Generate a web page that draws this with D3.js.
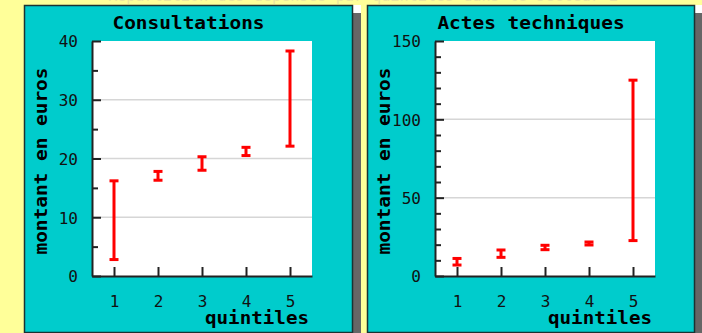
<!DOCTYPE html>
<html><head><meta charset="utf-8">
<script src="https://cdn.jsdelivr.net/npm/d3@7"></script>
<style>
html,body{margin:0;padding:0;background:#ffff99;overflow:hidden}
svg{display:block}
</style></head>
<body>
<script>
// ---- data ----
const quintiles = [1, 2, 3, 4, 5];
const consultLow  = [2.8, 16.3, 18.0, 20.5, 22.1];
const consultHigh = [16.2, 17.8, 20.3, 21.9, 38.3];
const actesLow  = [7.0, 11.9, 16.8, 19.8, 22.6];
const actesHigh = [11.2, 16.6, 19.6, 21.7, 125.0];
const titles = ["Consultations", "Actes techniques"];
const yMaxes = [40, 150];
const yMajorTicks = [[0, 10, 20, 30, 40], [0, 50, 100, 150]];
const yMinorTicks = [[5, 15, 25, 35], [10, 20, 30, 40, 60, 70, 80, 90, 110, 120, 130, 140]];
const yLabel = "montant en euros";
const xLabel = "quintiles";
const topText = "Répartition des dépenses par quintiles dans le secteur 2";

const W = 702, H = 333;
const svg = d3.select("body").append("svg").attr("width", W).attr("height", H);
svg.append("rect").attr("width", W).attr("height", H).attr("fill", "#ffff99");

const mono = "'DejaVu Sans Mono', 'Liberation Mono', monospace";

// faint cut-off heading at very top (only its lower edge shows)
svg.append("text").attr("x", 108).attr("y", 1)
  .attr("font-family", mono).attr("font-size", 16)
  .attr("fill", "#ece6a0").attr("textLength", 510).attr("lengthAdjust", "spacingAndGlyphs")
  .text(topText);

const panels = [
  {x0: 24, x1: 353, px0: 92, px1: 312, low: consultLow, high: consultHigh},
  {x0: 367, x1: 695, px0: 435, px1: 655, low: actesLow, high: actesHigh}
];

panels.forEach((p, i) => {
  const g = svg.append("g");
  // shadow
  g.append("rect").attr("x", p.x1).attr("y", 5).attr("width", 8).attr("height", 8).attr("fill", "#ffffff");
  g.append("rect").attr("x", p.x1).attr("y", 13).attr("width", 8).attr("height", H - 13).attr("fill", "#666666");
  // panel
  g.append("rect").attr("x", p.x0 + 0.5).attr("y", 5.5).attr("width", p.x1 - p.x0 - 1).attr("height", 327)
    .attr("fill", "#00cccc").attr("stroke", "#1a3333").attr("stroke-width", 1.5);

  const top = 41, bottom = 276;
  const x = d3.scaleLinear().domain([0.5, 5.5]).range([p.px0, p.px1]);
  const y = d3.scaleLinear().domain([0, yMaxes[i]]).range([bottom, top]);

  // plot area
  g.append("rect").attr("x", p.px0).attr("y", top).attr("width", p.px1 - p.px0).attr("height", bottom - top)
    .attr("fill", "#ffffff");
  // grid
  g.selectAll(".grid").data(yMajorTicks[i].filter(v => v > 0 && v < yMaxes[i])).enter().append("line")
    .attr("x1", p.px0).attr("x2", p.px1).attr("y1", d => y(d)).attr("y2", d => y(d))
    .attr("stroke", "#d6d6d6").attr("stroke-width", 1.5);

  // title
  const tcx = (p.x0 + p.x1) / 2;
  g.append("text").attr("x", tcx).attr("y", 29).attr("text-anchor", "middle")
    .attr("font-family", mono).attr("font-weight", "bold").attr("font-size", 17)
    .attr("textLength", titles[i].length * 11.7).attr("lengthAdjust", "spacingAndGlyphs")
    .text(titles[i]);

  // minor y ticks
  const minor = g.append("g").attr("transform", `translate(${p.px0},0)`)
    .call(d3.axisLeft(y).tickValues(yMinorTicks[i]).tickSize(-6).tickFormat(""));
  minor.select(".domain").remove();
  minor.selectAll("line").attr("stroke", "#222").attr("stroke-width", 2);

  // major y axis
  const ya = g.append("g").attr("transform", `translate(${p.px0},0)`)
    .call(d3.axisLeft(y).tickValues(yMajorTicks[i]).tickSize(-9).tickSizeOuter(0).tickPadding(14));
  ya.select(".domain").attr("stroke", "#222").attr("stroke-width", 2);
  ya.selectAll("line").attr("stroke", "#222").attr("stroke-width", 2);
  ya.selectAll("text").attr("font-family", mono).attr("font-size", 16).attr("fill", "#111").attr("dy", "0.36em");

  // x axis
  const xa = g.append("g").attr("transform", `translate(0,${bottom})`)
    .call(d3.axisBottom(x).tickValues(quintiles).tickSize(-9).tickSizeOuter(0).tickPadding(20).tickFormat(d3.format("d")));
  xa.select(".domain").attr("stroke", "#222").attr("stroke-width", 2);
  xa.selectAll("line").attr("stroke", "#222").attr("stroke-width", 2);
  xa.selectAll("text").attr("font-family", mono).attr("font-size", 16).attr("fill", "#111");

  // axis titles
  g.append("text").attr("x", p.px1 - 3).attr("y", 324).attr("text-anchor", "end")
    .attr("font-family", mono).attr("font-weight", "bold").attr("font-size", 17)
    .attr("textLength", 104).attr("lengthAdjust", "spacingAndGlyphs").text(xLabel);
  g.append("text").attr("transform", `translate(${p.x0 + 23},161) rotate(-90)`).attr("text-anchor", "middle")
    .attr("font-family", mono).attr("font-weight", "bold").attr("font-size", 17)
    .attr("textLength", 187).attr("lengthAdjust", "spacingAndGlyphs").text(yLabel);

  // error bars
  const eb = g.selectAll(".eb").data(quintiles.map((q, k) => ({q, lo: p.low[k], hi: p.high[k]}))).enter().append("g");
  eb.append("line").attr("x1", d => x(d.q)).attr("x2", d => x(d.q))
    .attr("y1", d => y(d.lo)).attr("y2", d => y(d.hi)).attr("stroke", "#ff0000").attr("stroke-width", 3);
  ["lo", "hi"].forEach(k => {
    eb.append("line").attr("x1", d => x(d.q) - 4.5).attr("x2", d => x(d.q) + 4.5)
      .attr("y1", d => y(d[k])).attr("y2", d => y(d[k])).attr("stroke", "#ff0000").attr("stroke-width", 3);
  });
});
</script>
</body></html>
